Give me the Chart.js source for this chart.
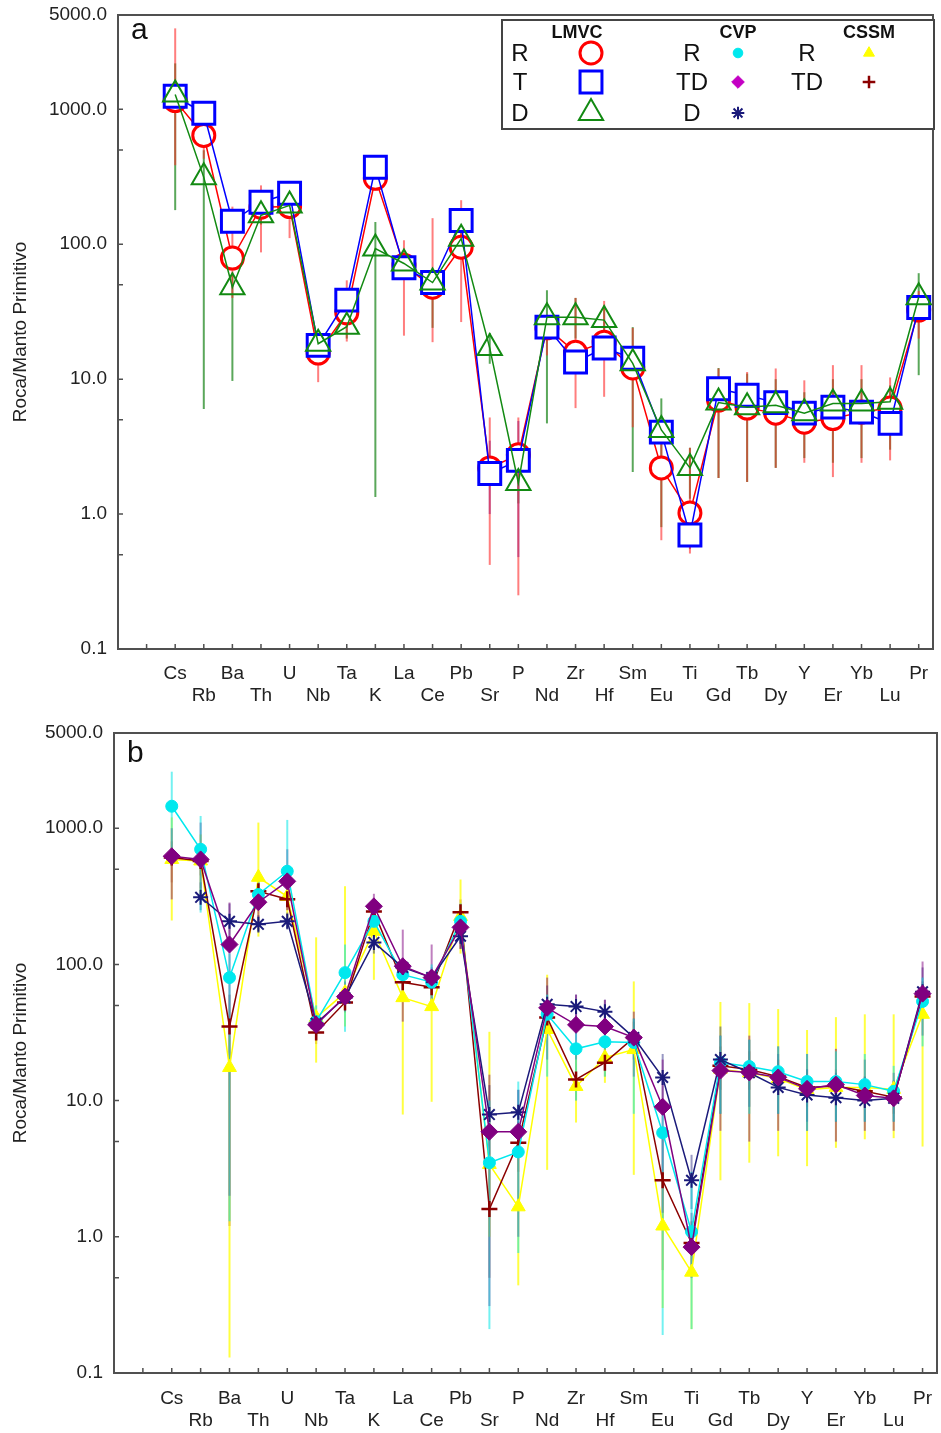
<!DOCTYPE html>
<html>
<head>
<meta charset="utf-8">
<script src="https://cdn.jsdelivr.net/npm/chart.js"></script>
<style>
  body { margin: 0; background: #fff; }
  .panel { position: absolute; left: 0; width: 941px; }
  #panel-a { top: 0; height: 716px; }
  #panel-b { top: 716px; height: 717px; }
</style>
</head>
<body>
<div class="panel" id="panel-a"><canvas id="chart-a"></canvas></div>
<div class="panel" id="panel-b"><canvas id="chart-b"></canvas></div>
<script>
"use strict";

const elements = ["Cs", "Rb", "Ba", "Th", "U", "Nb", "Ta", "K", "La", "Ce", "Pb", "Sr", "P", "Nd",
    "Zr", "Hf", "Sm", "Eu", "Ti", "Gd", "Tb", "Dy", "Y", "Er", "Yb", "Lu", "Pr"];
const yTickValues = [0.1, 0.5, 1, 5, 10, 50, 100, 500, 1000, 5000];
const yTickLabelled = [0.1, 1, 10, 100, 1000, 5000];
const yTitle = "Roca/Manto Primitivo";

// panel a: LMVC
const lmvcR = [1160, 640, 79, 188, 190, 15.6, 31, 308, 70, 48, 95, 2.2, 2.75, 24, 15.8, 18.8, 12.1, 2.2, 1.02, 7.0, 6.1, 5.6, 4.8, 5.1, 5.7, 6.1, 32.5];
const lmvcRLow = [385, 430, 40, 87, 111, 9.5, 19, 250, 21, 18.8, 26.5, 0.42, 0.25, 15, 6.1, 7.4, 4.4, 0.64, 0.51, 1.85, 1.73, 2.2, 2.4, 1.88, 2.4, 2.5, 20];
const lmvcRHigh = [3980, 900, 190, 273, 230, 22, 54, 380, 107, 156, 212, 5.2, 5.2, 30, 40, 38, 24, 3.5, 3.1, 12, 11.3, 12, 9.8, 12.7, 12.7, 10.3, 45];
const lmvcT = [1250, 935, 148, 205, 239, 17.8, 38.5, 372, 67, 52, 150, 2.0, 2.5, 24.3, 13.4, 17, 14.3, 4.05, 0.70, 8.5, 7.6, 6.7, 5.6, 6.2, 5.7, 4.7, 34];
const lmvcTLow = [null, null, null, null, null, null, null, null, null, null, null, 1.0, 0.48, null, null, null, null, null, 0.55, null, null, null, null, null, null, null, null];
const lmvcTHigh = [null, null, null, null, null, null, null, null, null, null, null, 3.5, 4.9, null, null, null, null, null, 0.9, null, null, null, null, null, null, null, null];
const lmvcD = [1290, 313, 48, 164, 194, 18.3, 24.5, 93, 72, 52, 110, 17, 1.7, 28.8, 28.8, 27.4, 13.1, 4.2, 2.2, 6.7, 6.2, 6.4, 5.6, 6.6, 6.6, 6.8, 40.5];
const lmvcDLow = [179, 6.0, 9.7, 140, 180, 14, 20, 1.34, 60, 24, 90, 13, 1.2, 4.7, 20, 20, 2.05, 0.8, 1.3, 1.85, 1.73, 2.2, 2.6, 2.4, 2.6, 3, 10.7];
const lmvcDHigh = [2190, 497, 60, 190, 210, 22, 30, 146, 80, 60, 130, 22, 2.2, 45.6, 40, 35, 24.3, 7.2, 3.1, 12.1, 11, 10, 8, 10, 10, 9, 61];

// panel b: CVP
const cvpR = [1450, 700, 80, 326, 483, 38, 87, 207, 84, 74, 207, 3.5, 4.2, 43, 24, 27, 26.7, 5.8, 1.09, 19, 17.8, 16.3, 13.8, 13.8, 13.1, 11.7, 53.5];
const cvpRLow = [700, 240, 1.3, 250, 300, 30, 32, 150, 60, 55, 150, 0.21, 0.76, 15, 10, 15, 8, 0.19, 0.21, 8, 8, 8, 6, 7, 7, 7, 25];
const cvpRHigh = [2600, 1230, 120, 420, 1150, 50, 140, 280, 110, 100, 280, 10, 13.8, 60, 40, 40, 40, 10, 3, 30, 28, 25, 22, 23, 22, 18, 80];
const cvpTD = [623, 590, 140, 286, 407, 36, 58, 267, 97, 80, 187, 5.9, 5.9, 48, 36, 35, 29, 9, 0.84, 16.6, 16.1, 14.8, 12.2, 13.1, 10.9, 10.4, 61];
const cvpTDLow = [300, 360, 2, 200, 250, 28, 45, 200, 38, 50, 130, 0.31, 1.0, 20, 20, 20, 15, 1.5, 0.5, 6, 5, 6, 6, 5, 6, 6, 30];
const cvpTDHigh = [1000, 1100, 285, 400, 700, 45, 75, 330, 180, 140, 250, 15.5, 12, 80, 60, 55, 45, 20, 1.5, 30, 30, 25, 22, 24, 20, 16, 105];
const cvpD = [null, 311, 207, 197, 207, 37, 57, 145, 95, 80, 161, 7.9, 8.2, 51, 49, 45, 29, 14.8, 2.6, 20, 16, 12.5, 11, 10.5, 10, 10.4, 63];
const cvpDLow = [null, 250, 150, 170, 180, 30, 48, 120, 80, 65, 130, 4, 5, 35, 38, 35, 20, 8, 1.6, 8, 9, 8, 7, 7, 7, 7, 40];
const cvpDHigh = [null, 400, 280, 230, 240, 44, 66, 170, 110, 95, 190, 13, 12, 70, 60, 55, 40, 22, 4, 35, 28, 22, 17, 16, 15, 14, 95];

// panel b: CSSM
const cssmR = [590, 575, 17.5, 436, 315, 40.7, 62, 175, 57, 49, 225, 3.4, 1.66, 33.3, 12.7, 20.7, 23.7, 1.2, 0.55, 17, 16, 14.5, 12, 12.5, 12.5, 12.1, 43];
const cssmRLow = [210, 300, 0.13, 160, 200, 19, 35, 77, 7.9, 9.8, 120, 1, 0.44, 3.1, 6.9, 13.5, 2.85, 0.3, 0.21, 2.6, 3.5, 3.9, 3.3, 4.5, 5.2, 5.3, 4.6];
const cssmRHigh = [1200, 900, 30, 1100, 500, 158, 375, 300, 90, 80, 420, 32, 6, 84, 25, 30, 75, 3, 1.2, 53, 52, 47, 33, 41, 43, 43, 50];
const cssmTD = [610, 575, 35, 344, 301, 31.6, 52.6, 245, 74, 68, 241, 1.6, 4.9, 40.7, 14.3, 19, 29, 2.6, 0.9, 18, 16.9, 15, 12.5, 12.8, 11.7, 10.6, 58];
const cssmTDLow = [400, 450, 1.2, 280, 250, 26, 44, 200, 60, 55, 190, 0.5, 3, 30, 10, 15, 22, 0.57, 0.6, 12, 12, 11, 9, 9, 9, 8, 45];
const cssmTDHigh = [800, 700, 60, 420, 360, 38, 62, 290, 90, 80, 300, 4, 7, 55, 20, 24, 38, 6, 1.3, 25, 23, 20, 17, 17, 15, 14, 75];

const fontFamily = "'Liberation Sans', Arial, sans-serif";

const seriesA = [
    {group: "LMVC", label: "R", values: lmvcR, low: lmvcRLow, high: lmvcRHigh, color: "#ff0000",
        err: "rgba(255,40,40,0.6)", style: "circle", radius: 11, width: 3, fill: "#ffffff", order: 2},
    {group: "LMVC", label: "T", values: lmvcT, low: lmvcTLow, high: lmvcTHigh, color: "#0000ff",
        err: "rgba(110,60,200,0.7)", style: "rect", radius: 15.5, width: 3, fill: "#ffffff", order: 1},
    {group: "LMVC", label: "D", values: lmvcD, low: lmvcDLow, high: lmvcDHigh, color: "#128a12",
        err: "rgba(20,130,20,0.7)", style: "triangle", radius: 14, width: 2, fill: "rgba(255,255,255,0)", order: 0}
];

const seriesB = [
    {group: "CVP", label: "R", values: cvpR, low: cvpRLow, high: cvpRHigh, color: "#00e8ee",
        err: "rgba(0,230,230,0.55)", style: "circle", radius: 6, width: 1, fill: "#00e8ee", order: 2, legendColor: "#00e8ee"},
    {group: "CVP", label: "TD", values: cvpTD, low: cvpTDLow, high: cvpTDHigh, color: "#800080",
        err: "rgba(128,0,128,0.5)", style: "rectRot", radius: 8.5, width: 1, fill: "#800080", order: 0, legendColor: "#c400c4"},
    {group: "CVP", label: "D", values: cvpD, low: cvpDLow, high: cvpDHigh, color: "#1a1a7a",
        err: "rgba(26,26,122,0.45)", style: "star", radius: 7.5, width: 2, fill: "#1a1a7a", order: 1, legendColor: "#1a1a7a"},
    {group: "CSSM", label: "R", values: cssmR, low: cssmRLow, high: cssmRHigh, color: "#ffff00",
        err: "rgba(255,255,0,0.75)", style: "triangle", radius: 8, width: 1, fill: "#ffff00", order: 4, legendColor: "#ffff00"},
    {group: "CSSM", label: "TD", values: cssmTD, low: cssmTDLow, high: cssmTDHigh, color: "#8b0000",
        err: "rgba(139,0,0,0.45)", style: "cross", radius: 8, width: 2.5, fill: "#8b0000", order: 3, legendColor: "#8b0000"}
];

function toDataset(s) {
    return {
        label: s.group + " " + s.label,
        data: s.values.map((v, i) => ({x: i, y: v})),
        borderColor: s.color,
        borderWidth: 1.5,
        tension: 0,
        pointStyle: s.style,
        pointRadius: s.radius,
        pointBorderWidth: s.width,
        pointBorderColor: s.color,
        pointBackgroundColor: s.fill,
        order: s.order,
        errLow: s.low,
        errHigh: s.high,
        errColor: s.err
    };
}

function xLabel(value) {
    const name = elements[value];
    if (name === undefined) {
        return "";
    }
    return value % 2 === 0 ? [name, ""] : ["", name];
}

function yLabel(value) {
    return yTickLabelled.includes(value) ? value.toFixed(1) : "";
}

const errorBars = {
    id: "errorBars",
    beforeDatasetsDraw(chart) {
        const {ctx, chartArea: a} = chart;
        const xs = chart.scales.x;
        const ys = chart.scales.y;
        ctx.save();
        ctx.beginPath();
        ctx.rect(a.left, a.top, a.right - a.left, a.bottom - a.top);
        ctx.clip();
        ctx.lineWidth = 2;
        chart.data.datasets.slice().reverse().forEach(ds => {
            ctx.strokeStyle = ds.errColor;
            ds.errLow.forEach((lo, i) => {
                const hi = ds.errHigh[i];
                if (lo === null || hi === null) {
                    return;
                }
                const px = xs.getPixelForValue(i);
                ctx.beginPath();
                ctx.moveTo(px, ys.getPixelForValue(lo));
                ctx.lineTo(px, ys.getPixelForValue(hi));
                ctx.stroke();
            });
        });
        ctx.restore();
    }
};

const frame = {
    id: "frame",
    afterDraw(chart, args, opts) {
        const {ctx, chartArea: a} = chart;
        const xs = chart.scales.x;
        const ys = chart.scales.y;
        ctx.save();
        ctx.strokeStyle = "#505050";
        ctx.lineWidth = 2;
        ctx.strokeRect(a.left, a.top, a.right - a.left, a.bottom - a.top);
        ctx.lineWidth = 1.5;
        ctx.beginPath();
        ys.ticks.forEach(t => {
            const py = ys.getPixelForValue(t.value);
            ctx.moveTo(a.left, py);
            ctx.lineTo(a.left + 5, py);
        });
        xs.ticks.forEach(t => {
            const px = xs.getPixelForValue(t.value);
            ctx.moveTo(px, a.bottom);
            ctx.lineTo(px, a.bottom - 5);
        });
        ctx.stroke();
        ctx.fillStyle = "#111";
        ctx.font = "30px " + fontFamily;
        ctx.textBaseline = "alphabetic";
        ctx.fillText(opts.letter, a.left + 13, a.top + opts.letterY);
        ctx.restore();
    }
};

function drawMarker(ctx, s, x, y, radius, color) {
    ctx.strokeStyle = color;
    ctx.fillStyle = s.fill === "#ffffff" || s.fill.startsWith("rgba") ? s.fill : color;
    ctx.lineWidth = s.width;
    Chart.helpers.drawPoint(ctx, {pointStyle: s.style, radius, rotation: 0, borderWidth: s.width}, x, y);
}

const legendBox = {
    id: "legendBox",
    afterDraw(chart, args, opts) {
        if (!opts.show) {
            return;
        }
        const {ctx, chartArea: a} = chart;
        const bw = 432;
        const bx = a.right + 1 - bw;
        const by = a.top + 5;
        ctx.save();
        ctx.fillStyle = "#fff";
        ctx.fillRect(bx, by, bw, 109);
        ctx.strokeStyle = "#444";
        ctx.lineWidth = 2;
        ctx.strokeRect(bx, by, bw, 109);

        const columns = [
            {title: "LMVC", items: seriesA, textX: 18, markX: 89, big: true},
            {title: "CVP", items: seriesB.filter(s => s.group === "CVP"), textX: 190, markX: 236, big: false},
            {title: "CSSM", items: seriesB.filter(s => s.group === "CSSM"), textX: 305, markX: 367, big: false}
        ];
        const rowY = [33, 62, 93];
        ctx.textAlign = "center";
        ctx.textBaseline = "middle";
        columns.forEach(col => {
            ctx.fillStyle = "#111";
            ctx.font = "bold 18px " + fontFamily;
            ctx.fillText(col.title, bx + col.markX - (col.big ? 14 : 0), by + 13);
            col.items.forEach((s, j) => {
                ctx.fillStyle = "#111";
                ctx.font = "24px 'Liberation Sans Narrow', " + fontFamily;
                ctx.fillText(s.label, bx + col.textX, by + rowY[j] + 1);
                const r = col.big ? s.radius : Math.min(s.radius, 7) * (s.style === "circle" ? 0.8 : 0.9);
                drawMarker(ctx, s, bx + col.markX, by + rowY[j], r, s.legendColor || s.color);
            });
        });
        ctx.restore();
    }
};

function buildChart(canvasId, series, layout) {
    const ctx = document.getElementById(canvasId);
    const xTickValues = [-1].concat(elements.map((e, i) => i));
    return new Chart(ctx, {
        type: "line",
        data: {datasets: series.map(toDataset)},
        options: {
            responsive: true,
            maintainAspectRatio: false,
            animation: false,
            layout: {
                autoPadding: false,
                padding: {top: layout.top, right: layout.right, left: 0, bottom: 0}
            },
            plugins: {
                legend: {display: false},
                tooltip: {enabled: false},
                frame: {letter: layout.letter, letterY: layout.letterY},
                legendBox: {show: layout.legend}
            },
            scales: {
                x: {
                    type: "linear",
                    min: -2,
                    max: 26.5,
                    grid: {display: false, drawTicks: false},
                    border: {display: false},
                    afterBuildTicks: scale => {
                        scale.ticks = xTickValues.map(v => ({value: v}));
                    },
                    afterFit: scale => {
                        scale.height = layout.xHeight;
                        scale.paddingLeft = 0;
                        scale.paddingRight = 0;
                    },
                    ticks: {
                        autoSkip: false,
                        maxRotation: 0,
                        padding: layout.xPad,
                        color: "#222",
                        font: {size: 19, family: fontFamily, lineHeight: 1.2},
                        callback: xLabel
                    }
                },
                y: {
                    type: "logarithmic",
                    min: 0.1,
                    max: 5000,
                    grid: {display: false, drawTicks: false},
                    border: {display: false},
                    afterBuildTicks: scale => {
                        scale.ticks = yTickValues.map(v => ({value: v}));
                    },
                    afterFit: scale => {
                        scale.width = layout.yWidth;
                        scale.paddingTop = 0;
                        scale.paddingBottom = 0;
                    },
                    ticks: {
                        autoSkip: false,
                        padding: 11,
                        color: "#222",
                        font: {size: 19, family: fontFamily},
                        callback: yLabel
                    },
                    title: {
                        display: true,
                        text: yTitle,
                        color: "#222",
                        font: {size: 19, family: fontFamily},
                        padding: {top: 9, bottom: 0}
                    }
                }
            }
        },
        plugins: [errorBars, frame, legendBox]
    });
}

buildChart("chart-a", seriesA, {top: 15, right: 8, xHeight: 67, yWidth: 118, xPad: 13, letter: "a", letterY: 24, legend: true});
buildChart("chart-b", seriesB, {top: 17, right: 4, xHeight: 60, yWidth: 114, xPad: 14, letter: "b", letterY: 29, legend: false});
</script>
</body>
</html>
